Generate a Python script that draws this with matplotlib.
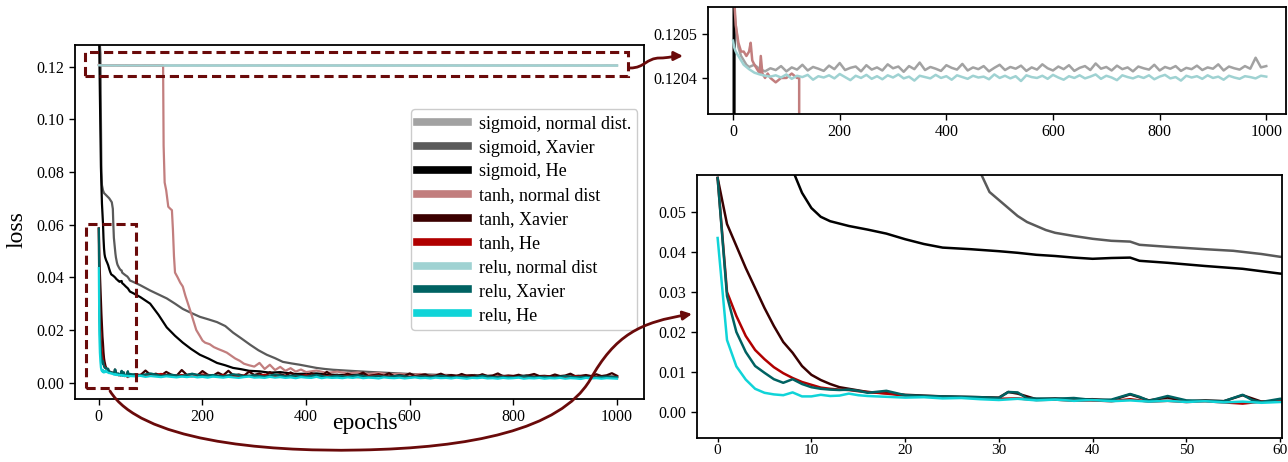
import numpy as np
import matplotlib
matplotlib.use('Agg')
import matplotlib.pyplot as plt
from matplotlib.path import Path
from matplotlib.patches import Rectangle, FancyArrowPatch
from matplotlib.ticker import FormatStrFormatter

plt.rcParams['font.family'] = ['Liberation Serif', 'DejaVu Serif']

# ---- data (loss per epoch) ----
tail10 = list(range(70, 1001, 10))
tail20 = list(range(80, 1001, 20))

sig_norm_ep = [0, 2, 5, 10, 15, 20, 25, 30, 40, 50, 60] + tail10
sig_norm_loss = [0.12075, 0.12056, 0.12052, 0.12047, 0.12045, 0.12044, 0.12043, 0.120425, 0.12043, 0.12042, 0.120415,
                 0.120422, 0.120418, 0.120427, 0.120415, 0.120424, 0.120419, 0.120430, 0.120417, 0.120425, 0.120421,
                 0.120416, 0.120428, 0.120420, 0.120434, 0.120418, 0.120423, 0.120426, 0.120415, 0.120429, 0.120419,
                 0.120424, 0.120417, 0.120431, 0.120422, 0.120426, 0.120414, 0.120427, 0.120420, 0.120435, 0.120418,
                 0.120425, 0.120421, 0.120416, 0.120429, 0.120423, 0.120419, 0.120432, 0.120417, 0.120424, 0.120420,
                 0.120427, 0.120415, 0.120423, 0.120430, 0.120418, 0.120425, 0.120421, 0.120428, 0.120416, 0.120424,
                 0.120419, 0.120431, 0.120422, 0.120417, 0.120426, 0.120420, 0.120429, 0.120416, 0.120423, 0.120427,
                 0.120418, 0.120433, 0.120421, 0.120425, 0.120417, 0.120428, 0.120420, 0.120424, 0.120415, 0.120426,
                 0.120422, 0.120419, 0.120430, 0.120417, 0.120425, 0.120421, 0.120427, 0.120416, 0.120423, 0.120420,
                 0.120428, 0.120418, 0.120424, 0.120421, 0.120431, 0.120417, 0.120426, 0.120422, 0.120419, 0.120427,
                 0.120421, 0.120446, 0.120424, 0.120427]

sig_xav_ep = [0, 3, 4, 5, 6, 8, 10, 15, 20, 25, 27, 28, 29, 30, 31, 32, 33, 34, 35, 36, 38, 40, 42, 44, 45, 48,
              52, 55, 58, 60, 66, 80, 99, 115, 131, 147, 162, 178, 195, 212, 228, 244, 259, 275, 292, 308, 324,
              340, 355, 372, 388, 404, 420, 436, 452, 485, 520, 560, 600, 650, 700, 750, 800, 850, 900, 950, 1000]
sig_xav_loss = [0.135, 0.125, 0.100, 0.080, 0.075, 0.073, 0.072, 0.071, 0.070, 0.0685, 0.066, 0.060, 0.055,
                0.053, 0.051, 0.049, 0.0475, 0.0465, 0.0455, 0.0448, 0.044, 0.0433, 0.0428, 0.0426, 0.0418,
                0.0413, 0.0407, 0.0403, 0.0395, 0.0388, 0.0383, 0.037, 0.035, 0.0335, 0.032, 0.030, 0.028,
                0.0265, 0.025, 0.024, 0.023, 0.0215, 0.019, 0.0168, 0.0144, 0.0123, 0.0106, 0.0093, 0.0079,
                0.0073, 0.0068, 0.0062, 0.0056, 0.0052, 0.0049, 0.0045, 0.0041, 0.0037, 0.0033, 0.0030,
                0.0028, 0.0026, 0.0025, 0.0023, 0.0022, 0.0021, 0.0020]

sig_he_ep = [0, 2, 4, 6, 8, 9, 10, 11, 12, 14, 16, 18, 20, 22, 24, 27, 30, 32, 34, 36, 38, 40, 42, 44, 45, 48,
             52, 56, 60, 66, 80, 99, 115, 131, 147, 162, 178, 195, 212, 228, 244, 259, 275, 290, 310, 330, 350,
             380, 420, 460, 500, 520, 540, 560, 580, 600, 625, 650, 675, 700, 725, 750, 775, 800, 825, 850, 875,
             900, 925, 950, 975, 1000]
sig_he_loss = [0.140, 0.110, 0.082, 0.068, 0.0605, 0.0548, 0.051, 0.0488, 0.0477, 0.0465, 0.0456, 0.0446,
               0.0432, 0.042, 0.0411, 0.0407, 0.0402, 0.0398, 0.0393, 0.039, 0.0386, 0.0383, 0.0385, 0.0386,
               0.0378, 0.0373, 0.0365, 0.0358, 0.0346, 0.034, 0.0325, 0.030, 0.0258, 0.021, 0.0178, 0.0152,
               0.0128, 0.0106, 0.0091, 0.0075, 0.0066, 0.0056, 0.0051, 0.0045, 0.0043, 0.0038, 0.0040, 0.0033,
               0.0035, 0.0029, 0.0031, 0.0029, 0.0033, 0.0026, 0.0030, 0.0025, 0.0031, 0.0024, 0.0028, 0.0023,
               0.0029, 0.0022, 0.0026, 0.0023, 0.0027, 0.0021, 0.0025, 0.0022, 0.0026, 0.0020, 0.0024, 0.0022]

tanh_norm_ep = [0, 2, 5, 10, 15, 20, 25, 30, 33, 36, 40, 45, 50, 52, 55, 60, 65, 70, 80, 90, 100, 110, 120, 124,
                125, 127, 130, 134, 138, 141, 143, 145, 147, 152, 157, 162, 167, 172, 177, 182, 188, 195, 200,
                205, 214, 222, 230, 240, 247, 255, 263, 272, 280, 290, 300, 310, 320, 330, 340, 350, 360, 370,
                380, 390, 400, 420, 440, 460, 480, 500, 520, 540, 560, 580, 600, 620, 640, 660, 680, 700, 750,
                800, 850, 900, 950, 1000]
tanh_norm_loss = [0.12070, 0.12058, 0.12052, 0.12048, 0.12046, 0.12046, 0.12045, 0.12046, 0.12048, 0.12044,
                  0.12043, 0.12042, 0.12041, 0.12045, 0.12041, 0.12040, 0.12041, 0.12040, 0.12039, 0.12040,
                  0.12040, 0.12041, 0.12040, 0.12040, 0.090, 0.076, 0.073, 0.0668, 0.0660, 0.0655, 0.058, 0.048,
                  0.0418, 0.040, 0.038, 0.0365, 0.033, 0.030, 0.027, 0.0238, 0.020, 0.0177, 0.016, 0.0152,
                  0.0146, 0.0135, 0.0128, 0.0120, 0.0114, 0.0103, 0.0092, 0.0083, 0.0072, 0.0066, 0.0061, 0.0075,
                  0.0052, 0.0068, 0.0048, 0.0060, 0.0045, 0.0055, 0.0042, 0.0050, 0.0040, 0.0046, 0.0037, 0.0042,
                  0.0035, 0.0039, 0.0033, 0.0037, 0.0031, 0.0034, 0.0029, 0.0033, 0.0027, 0.0030, 0.0026, 0.0028,
                  0.0025, 0.0026, 0.0023, 0.0025, 0.0022, 0.0023]

early_ep = [0, 1, 2, 3, 4, 5, 6, 7, 8, 9, 10, 11, 12, 13, 14, 15, 16, 18, 20, 22, 24, 26, 28, 30, 32, 34, 36,
            38, 40, 42, 44, 46, 48, 50, 52, 54, 56, 58, 60]

# values below in units of 1e-3
tanh_xav_ep = early_ep[:23] + [30, 31, 32, 34, 36, 38, 40, 42, 44, 46, 48, 50, 52, 54, 56, 58, 60] + tail10
tanh_xav_mloss = [58.5, 47, 41.5, 36, 31, 26, 21.5, 17.5, 14.8, 11.5, 9.3, 8.0, 7.0, 6.2, 5.8, 5.4, 5.0, 4.7,
                  4.3, 4.1, 3.9, 3.8, 3.7, 3.6, 5.0, 4.6, 3.2, 3.4, 3.1, 3.2, 2.9, 4.4, 2.9, 3.6, 2.6, 2.9, 2.7,
                  4.2, 2.6, 2.6,
                  3.2, 2.8, 4.6, 2.9, 3.4, 2.7, 4.1, 3.0, 2.6, 4.8,
                  2.9, 3.3, 2.7, 4.4, 3.0, 2.6, 3.8, 2.8, 4.5, 2.7,
                  3.1, 2.6, 4.2, 2.9, 3.5, 2.5, 4.0, 2.8, 3.2, 2.6,
                  3.9, 2.7, 3.0, 2.5, 3.6, 2.8, 2.6, 4.1, 2.7, 3.0,
                  2.5, 3.4, 2.7, 2.9, 3.8, 2.5, 2.8, 3.2, 2.6, 3.6,
                  2.4, 2.9, 2.6, 3.5, 2.5, 2.8, 3.1, 2.4, 2.7, 3.4,
                  2.5, 2.9, 2.4, 3.3, 2.6, 2.8, 2.4, 3.2, 2.5, 2.7,
                  3.5, 2.4, 2.7, 2.5, 3.0, 2.4, 2.8, 3.3, 2.5, 2.6,
                  2.4, 3.1, 2.5, 2.7, 3.4, 2.4, 2.6, 2.9, 2.5, 3.2,
                  2.5, 2.8, 3.6, 2.6]

tanh_he_ep = early_ep + tail20
tanh_he_mloss = [58.5, 30, 24, 19, 15.5, 13.2, 11.2, 9.7, 8.5, 7.5, 6.8, 6.1, 5.8, 5.6, 5.5, 5.2, 5.0, 4.6, 4.1,
                 3.9, 3.8, 3.6, 3.5, 3.3, 3.4, 3.0, 3.1, 2.8, 2.9, 2.7, 3.2, 2.6, 2.8, 2.5, 2.7, 2.4, 2.1, 2.6,
                 2.7,
                 3.0, 2.6, 3.3, 2.5, 2.9, 2.4, 3.1, 2.5, 2.8, 2.3,
                 2.7, 2.4, 3.0, 2.3, 2.6, 2.2, 2.8, 2.3, 2.5, 2.2,
                 2.6, 2.1, 2.4, 2.7, 2.2, 2.4, 2.1, 2.5, 2.2, 2.3,
                 2.0, 2.4, 2.1, 2.3, 2.0, 2.5, 2.1, 2.2, 2.0, 2.3,
                 2.1, 2.0, 2.4, 2.1, 2.2, 2.0, 2.2]

relu_norm_ep = [0, 2, 5, 10, 15, 20, 25, 30, 40, 50, 60] + tail10
relu_norm_loss = [0.120485, 0.120470, 0.120460, 0.120450, 0.120440, 0.120430, 0.120425, 0.120420, 0.120412,
                  0.120408, 0.120405,
                  0.120403, 0.120406, 0.120401, 0.120408, 0.120398, 0.120405, 0.120402, 0.120407, 0.120396, 0.120404,
                  0.120401, 0.120406, 0.120399, 0.120409, 0.120402, 0.120395, 0.120405, 0.120400, 0.120407, 0.120398,
                  0.120404, 0.120397, 0.120406, 0.120401, 0.120408, 0.120399, 0.120403, 0.120394, 0.120405, 0.120402,
                  0.120399, 0.120407, 0.120400, 0.120404, 0.120396, 0.120406, 0.120402, 0.120398, 0.120405, 0.120401,
                  0.120403, 0.120397, 0.120408, 0.120400, 0.120405, 0.120399, 0.120404, 0.120393, 0.120406, 0.120402,
                  0.120400, 0.120405, 0.120398, 0.120407, 0.120401, 0.120396, 0.120404, 0.120400, 0.120406, 0.120399,
                  0.120403, 0.120408, 0.120398, 0.120405, 0.120401, 0.120395, 0.120406, 0.120402, 0.120399, 0.120404,
                  0.120400, 0.120406, 0.120397, 0.120403, 0.120407, 0.120399, 0.120402, 0.120394, 0.120405, 0.120401,
                  0.120404, 0.120398, 0.120406, 0.120400, 0.120403, 0.120396, 0.120405, 0.120401, 0.120398, 0.120404,
                  0.120402, 0.120399, 0.120405, 0.120403]

relu_xav_ep = early_ep[:17] + [18, 20, 22, 24, 26, 28, 30, 31, 32, 33, 36, 38, 40, 42, 44, 45, 46, 48, 50, 52,
                               54, 56, 57, 58, 60] + tail20
relu_xav_mloss = [58.5, 29, 20, 15, 11.5, 9.8, 8.2, 7.3, 8.2, 7.0, 6.2, 5.8, 5.6, 5.5, 5.6, 5.3, 4.8,
                  5.3, 4.2, 4.0, 3.9, 3.8, 3.7, 3.5, 5.0, 4.9, 3.4, 3.3, 3.5, 3.0, 3.1, 4.5, 3.8, 2.8, 4.0, 2.9,
                  2.8, 2.7, 4.3, 3.0, 2.5, 3.3,
                  2.8, 3.5, 2.6, 3.0, 2.5, 3.4, 2.6, 2.9, 2.4, 3.2,
                  2.5, 2.8, 2.3, 3.1, 2.4, 2.7, 2.3, 2.9, 2.2, 2.6,
                  2.3, 2.8, 2.2, 2.5, 2.2, 2.7, 2.1, 2.4, 2.2, 2.6,
                  2.1, 2.3, 2.0, 2.6, 2.1, 2.3, 2.0, 2.4, 2.1, 2.2,
                  2.0, 2.5, 2.1, 2.2, 2.0, 2.3, 2.1]

relu_he_ep = early_ep + tail10
relu_he_mloss = [43.5, 18.0, 11.4, 8.1, 5.8, 4.8, 4.4, 4.2, 4.9, 3.9, 3.9, 4.3, 4.0, 4.1, 4.6, 4.2, 4.0, 3.8,
                 3.6, 3.7, 3.4, 3.5, 3.2, 3.0, 3.3, 2.9, 3.1, 2.8, 3.0, 2.7, 2.9, 2.6, 2.8, 2.5, 2.7, 2.4, 2.6,
                 2.3, 2.5,
                 2.4, 2.6, 2.2, 2.5, 2.3, 2.1, 2.4, 2.2, 2.0, 2.3,
                 2.1, 2.4, 2.0, 2.2, 1.9, 2.3, 2.1, 1.9, 2.2, 2.0,
                 1.8, 2.1, 2.3, 1.9, 2.0, 1.8, 2.2, 1.9, 2.1, 1.8,
                 2.0, 1.7, 2.1, 1.9, 1.8, 2.2, 1.7, 2.0, 1.8, 1.9,
                 1.7, 2.0, 1.8, 2.1, 1.7, 1.9, 1.8, 1.6, 2.0, 1.8,
                 1.7, 1.9, 1.6, 1.8, 2.0, 1.7, 1.8, 1.6, 1.9, 1.7,
                 1.8, 1.6, 1.9, 1.7, 1.5, 1.8, 1.7, 1.9, 1.6, 1.7,
                 1.5, 1.8, 1.6, 1.7, 1.9, 1.5, 1.7, 1.6, 1.8, 1.5,
                 1.7, 1.6, 1.8, 1.5, 1.7, 1.6, 1.4, 1.8, 1.6, 1.7,
                 1.5, 1.7, 1.6, 1.5]

labels = ['sigmoid, normal dist.', 'sigmoid, Xavier', 'sigmoid, He', 'tanh, normal dist', 'tanh, Xavier',
          'tanh, He', 'relu, normal dist', 'relu, Xavier', 'relu, He']
colors = ['#a2a2a2', '#5a5a5a', '#000000', '#c27e7e', '#3a0000', '#b00000', '#9fd2d2', '#006262', '#10d4d8']
epochs = [sig_norm_ep, sig_xav_ep, sig_he_ep, tanh_norm_ep, tanh_xav_ep, tanh_he_ep, relu_norm_ep,
          relu_xav_ep, relu_he_ep]
losses = [sig_norm_loss, sig_xav_loss, sig_he_loss, tanh_norm_loss, np.array(tanh_xav_mloss) * 1e-3,
          np.array(tanh_he_mloss) * 1e-3, relu_norm_loss, np.array(relu_xav_mloss) * 1e-3,
          np.array(relu_he_mloss) * 1e-3]

W, H = 1288, 462
fig = plt.figure(figsize=(W / 100, H / 100), dpi=100)

def box(l, t, r, b):  # pixel box -> figure fraction
    return [l / W, 1 - b / H, (r - l) / W, (b - t) / H]

ax = fig.add_axes(box(75, 45, 644, 399))
ax_top = fig.add_axes(box(708, 7, 1286, 114))
ax_zoom = fig.add_axes(box(697, 175, 1282, 438))

for lab, ep, ls, c in zip(labels, epochs, losses, colors):
    ax.plot(ep, ls, color=c, lw=1.6, label=lab)
    ax_top.plot(ep, ls, color=c, lw=1.8)
    ax_zoom.plot(ep, ls, color=c, lw=1.8)

ax.set_xlim(-46, 1052)
ax.set_ylim(-0.0062, 0.1282)
ax.set_xticks([0, 200, 400, 600, 800, 1000])
ax.set_yticks([0.0, 0.02, 0.04, 0.06, 0.08, 0.10, 0.12])
ax.yaxis.set_major_formatter(FormatStrFormatter('%.2f'))

ax_top.set_xlim(-47, 1037)
ax_top.set_ylim(0.120318, 0.1205614)
ax_top.set_xticks([0, 200, 400, 600, 800, 1000])
ax_top.set_yticks([0.1204, 0.1205])
ax_top.yaxis.set_major_formatter(FormatStrFormatter('%.4f'))

ax_zoom.set_xlim(-2.2, 60.2)
ax_zoom.set_ylim(-0.0065, 0.05925)
ax_zoom.set_xticks([0, 10, 20, 30, 40, 50, 60])
ax_zoom.set_yticks([0.0, 0.01, 0.02, 0.03, 0.04, 0.05])
ax_zoom.yaxis.set_major_formatter(FormatStrFormatter('%.2f'))

for a in (ax, ax_top, ax_zoom):
    for s in a.spines.values():
        s.set_linewidth(1.3)
    a.tick_params(labelsize=11.5, length=4, width=1)
ax_zoom.tick_params(axis='x', length=3, pad=1.5, labelsize=11)

ax.set_ylabel('loss', fontsize=17)
ax.yaxis.set_label_coords(-0.083, 0.48)
ax.set_xlabel('epochs', fontsize=17)
ax.xaxis.set_label_coords(0.51, -0.04)

leg = ax.legend(loc='upper right', bbox_to_anchor=(0.988, 0.818), borderaxespad=0, fontsize=13,
                handlelength=2.8, labelspacing=0.38, borderpad=0.35, handletextpad=0.6, framealpha=1)
for h in leg.legend_handles:
    h.set_linewidth(5.5)

red = '#6a0a0a'
ax.add_patch(Rectangle((-27, 0.1165), 1048, 0.0091, fill=False, ls=(0, (3, 1.6)), lw=2.2, ec=red,
                       clip_on=False, zorder=5))
ax.add_patch(Rectangle((-25, -0.002), 96, 0.0623, fill=False, ls=(0, (3, 1.6)), lw=2.2, ec=red,
                       clip_on=False, zorder=5))

def fp(x, y):
    return (x / W, 1 - y / H)

top_path = Path([fp(630, 68), fp(645, 68), fp(646, 58), fp(660, 58), fp(668, 58), fp(674, 56), fp(683, 56)],
                [Path.MOVETO, Path.CURVE4, Path.CURVE4, Path.CURVE4, Path.CURVE4, Path.CURVE4, Path.CURVE4])
low_path = Path([fp(110, 391), fp(140, 440), fp(260, 452), fp(360, 450),
                 fp(470, 448), fp(560, 430), fp(590, 380),
                 fp(615, 335), fp(640, 322), fp(692, 314)],
                [Path.MOVETO] + [Path.CURVE4] * 9)
for p in (top_path, low_path):
    arr = FancyArrowPatch(path=p, arrowstyle='-|>', mutation_scale=13, lw=2, color=red,
                          transform=fig.transFigure)
    fig.add_artist(arr)

fig.savefig('out.png', dpi=100)
